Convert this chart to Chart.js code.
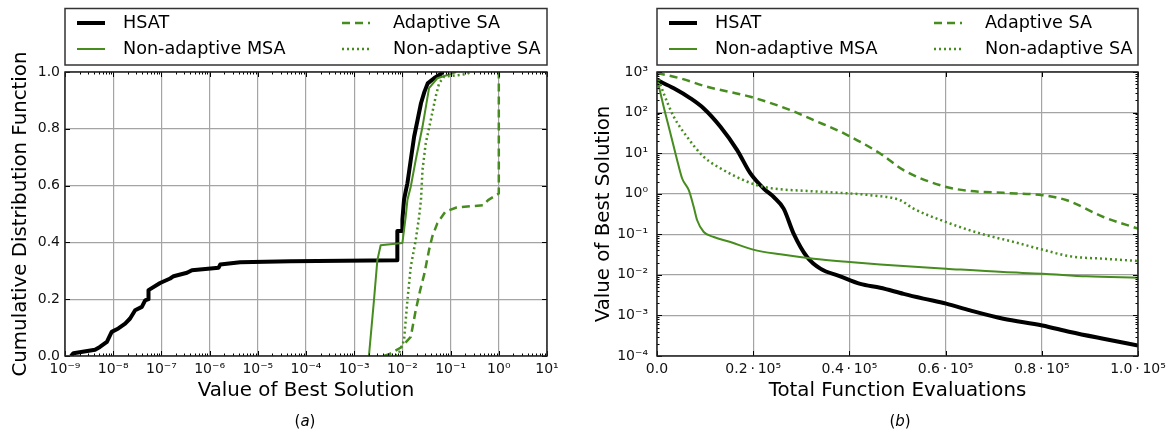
<!DOCTYPE html>
<html><head><meta charset="utf-8">
<script src="https://cdn.jsdelivr.net/npm/chart.js@4.4.1/dist/chart.umd.min.js"></script>
<style>
html,body{margin:0;padding:0;background:#fff;}
body{width:1172px;height:432px;position:relative;overflow:hidden;font-family:"DejaVu Sans";}
.panel{position:absolute;top:0;width:586px;height:432px;}
.cap{position:absolute;top:412px;font-size:15px;line-height:18px;font-family:"DejaVu Sans";color:#000;width:100px;text-align:center;}
</style></head><body>
<div class="panel" style="left:0"><canvas id="ca" width="586" height="432"></canvas></div>
<div class="panel" style="left:586px"><canvas id="cb" width="586" height="432"></canvas></div>
<div class="cap" style="left:255px">(<i>a</i>)</div>
<div class="cap" style="left:850px">(<i>b</i>)</div>
<script>
// ---------- series names ----------
const seriesNames = ['HSAT', 'Non-adaptive MSA', 'Adaptive SA', 'Non-adaptive SA'];

// ---------- panel (a): CDF of best solution value ----------
const hsatA_x = [1.33e-9, 1.5e-9, 4.2e-9, 5.3e-9, 7.4e-9, 9.3e-9, 1.28e-8, 1.77e-8, 2.24e-8, 2.85e-8, 3.93e-8, 4.6e-8, 5.4e-8, 5.4e-8, 9.4e-8, 1.52e-7, 1.79e-7, 3.4e-7, 4.3e-7, 1.54e-6, 1.66e-6, 4.3e-6, 4.8e-5, 7.85e-3, 7.85e-3, 0.0100, 0.0100, 0.0108, 0.0117, 0.0127, 0.0149, 0.0175, 0.0206, 0.0243, 0.0286, 0.0335, 0.0454, 0.0626, 0.068];
const hsatA_y = [0.0, 0.01, 0.022, 0.032, 0.05, 0.085, 0.097, 0.114, 0.132, 0.161, 0.173, 0.196, 0.2, 0.232, 0.257, 0.273, 0.281, 0.293, 0.302, 0.311, 0.322, 0.33, 0.334, 0.337, 0.44, 0.44, 0.48, 0.55, 0.58, 0.608, 0.69, 0.772, 0.83, 0.89, 0.93, 0.96, 0.978, 0.993, 1.0];
const msaA_x = [2.02e-3, 2.57e-3, 3.02e-3, 3.54e-3, 0.0100, 0.0108, 0.0117, 0.0127, 0.0149, 0.0189, 0.0261, 0.0357, 0.053, 0.10, 0.13];
const msaA_y = [0.0, 0.196, 0.337, 0.39, 0.398, 0.443, 0.49, 0.549, 0.596, 0.69, 0.807, 0.943, 0.978, 0.993, 1.0];
const adaA_x = [4.1e-3, 5.3e-3, 9.3e-3, 0.0149, 0.0189, 0.0234, 0.0286, 0.0357, 0.0416, 0.053, 0.0776, 0.133, 0.47, 0.6, 1.0, 1.0];
const adaA_y = [0.0, 0.006, 0.03, 0.067, 0.161, 0.232, 0.29, 0.373, 0.42, 0.467, 0.508, 0.523, 0.531, 0.549, 0.572, 1.0];
const nsaA_x = [7.2e-3, 8.5e-3, 0.0108, 0.0127, 0.0149, 0.0189, 0.0222, 0.0243, 0.0261, 0.0305, 0.0387, 0.049, 0.0577, 0.073, 0.22, 0.26];
const nsaA_y = [0.0, 0.01, 0.055, 0.196, 0.314, 0.408, 0.49, 0.549, 0.655, 0.749, 0.83, 0.913, 0.96, 0.983, 0.993, 1.0];

const xTicksA = [1e-9, 1e-8, 1e-7, 1e-6, 1e-5, 1e-4, 1e-3, 1e-2, 1e-1, 1e0, 1e1];
const xTickLabelsA = ['10⁻⁹', '10⁻⁸', '10⁻⁷', '10⁻⁶', '10⁻⁵', '10⁻⁴', '10⁻³', '10⁻²', '10⁻¹', '10⁰', '10¹'];
const yTicksA = [0.0, 0.2, 0.4, 0.6, 0.8, 1.0];
const yTickLabelsA = ['0.0', '0.2', '0.4', '0.6', '0.8', '1.0'];

// ---------- panel (b): convergence ----------
const hsatB_x = [0, 3490, 6960, 9720, 13190, 16660, 19420, 22180, 24260, 26330, 28400, 31200, 33960, 38100, 42260, 46400, 51260, 55400, 60120, 65100, 72000, 80100, 85900, 92800, 100000];
const hsatB_y = [630, 396, 224, 126, 44.7, 11.9, 3.16, 1.34, 0.83, 0.43, 0.104, 0.0275, 0.0142, 0.0092, 0.006, 0.0048, 0.0034, 0.0026, 0.00195, 0.00133, 8.3e-4, 5.66e-4, 3.9e-4, 2.66e-4, 1.82e-4];
const msaB_x = [0, 1400, 2800, 4190, 5230, 6610, 7640, 8350, 9720, 11800, 15260, 20000, 25650, 32560, 40040, 46400, 60120, 72000, 80100, 89350, 100000];
const msaB_y = [700, 138, 30.6, 6.7, 2.37, 1.22, 0.47, 0.222, 0.114, 0.0857, 0.0645, 0.0419, 0.032, 0.025, 0.0207, 0.018, 0.0142, 0.0117, 0.0107, 0.0092, 0.0085];
const adaB_x = [0, 4880, 10400, 19420, 27730, 32560, 38100, 46400, 51260, 60120, 65100, 72000, 80100, 85200, 92800, 100000];
const adaB_y = [950, 695, 433, 245, 115, 65, 34, 9.8, 3.8, 1.47, 1.17, 1.05, 0.92, 0.69, 0.267, 0.138];
const nsaB_x = [0, 1400, 3490, 6270, 9720, 13870, 18030, 20800, 24260, 31200, 38100, 44340, 50560, 53330, 60120, 67190, 74100, 80100, 85900, 92800, 100000];
const nsaB_y = [850, 295, 79, 25, 8.1, 3.8, 2.15, 1.62, 1.34, 1.17, 1.05, 0.92, 0.69, 0.43, 0.2, 0.105, 0.065, 0.042, 0.0286, 0.025, 0.022];

const xTicksB = [0, 20000, 40000, 60000, 80000, 100000];
const xTickLabelsB = ['0.0', '0.2\u2009·\u200910⁵', '0.4\u2009·\u200910⁵', '0.6\u2009·\u200910⁵', '0.8\u2009·\u200910⁵', '1.0\u2009·\u200910⁵'];
const yTicksB = [1e-4, 1e-3, 1e-2, 1e-1, 1e0, 1e1, 1e2, 1e3];
const yTickLabelsB = ['10⁻⁴', '10⁻³', '10⁻²', '10⁻¹', '10⁰', '10¹', '10²', '10³'];

// ---------- styling ----------
const GREEN = '#468c1e';
const FONT = 'DejaVu Sans';
const styles = [
  {borderColor: '#000', borderWidth: 4, borderDash: [], order: 4},
  {borderColor: GREEN, borderWidth: 2, borderDash: [], order: 3},
  {borderColor: GREEN, borderWidth: 2.5, borderDash: [8, 5], order: 2},
  {borderColor: GREEN, borderWidth: 2.5, borderDash: [2, 3], order: 1}
];

function makeDataset(i, xs, ys, smooth) {
  return Object.assign({
    label: seriesNames[i],
    data: xs.map((x, k) => ({x: x, y: ys[k]})),
    pointRadius: 0, fill: false, tension: 0,
    cubicInterpolationMode: smooth ? 'monotone' : 'default',
    borderCapStyle: 'butt', borderJoinStyle: 'round'
  }, styles[i]);
}

function minorLog(majors) {
  const out = [];
  for (let i = 0; i < majors.length - 1; i++) {
    for (let k = 2; k <= 9; k++) out.push(majors[i] * k);
  }
  return out;
}

const frameLegend = {
  id: 'frameLegend',
  afterDraw(chart, args, o) {
    const ctx = chart.ctx, a = chart.chartArea;
    const xs = chart.scales.x, ys = chart.scales.y;
    ctx.save();
    ctx.strokeStyle = '#000';
    ctx.lineWidth = 1;
    const vtick = (v, len) => {
      const p = Math.round(xs.getPixelForValue(v)) + 0.5;
      ctx.beginPath();
      ctx.moveTo(p, a.bottom); ctx.lineTo(p, a.bottom - len);
      ctx.moveTo(p, a.top); ctx.lineTo(p, a.top + len);
      ctx.stroke();
    };
    const htick = (v, len) => {
      const p = Math.round(ys.getPixelForValue(v)) + 0.5;
      ctx.beginPath();
      ctx.moveTo(a.left, p); ctx.lineTo(a.left + len, p);
      ctx.moveTo(a.right, p); ctx.lineTo(a.right - len, p);
      ctx.stroke();
    };
    o.xMajor.forEach(v => vtick(v, 5));
    (o.xMinor || []).forEach(v => vtick(v, 2.5));
    o.yMajor.forEach(v => htick(v, 5));
    (o.yMinor || []).forEach(v => htick(v, 2.5));
    // frame
    ctx.lineWidth = 1.5;
    ctx.strokeStyle = '#222';
    ctx.strokeRect(a.left, a.top, a.right - a.left, a.bottom - a.top);
    // legend box
    ctx.lineWidth = 1.5;
    ctx.strokeStyle = '#333';
    ctx.strokeRect(a.left, 8.5, a.right - a.left, 56.5);
    ctx.font = '17.6px "' + FONT + '"';
    ctx.textBaseline = 'middle';
    ctx.textAlign = 'left';
    ctx.fillStyle = '#000';
    const pos = [
      {lx: a.left + 12, tx: a.left + 58, y: 23},
      {lx: a.left + 12, tx: a.left + 58, y: 49},
      {lx: a.left + 277, tx: a.left + 328, y: 23},
      {lx: a.left + 277, tx: a.left + 328, y: 49}
    ];
    chart.data.datasets.forEach((d, i) => {
      const p = pos[i];
      ctx.save();
      ctx.strokeStyle = d.borderColor;
      ctx.lineWidth = d.borderWidth;
      ctx.setLineDash(d.borderDash || []);
      ctx.beginPath();
      ctx.moveTo(p.lx, p.y); ctx.lineTo(p.lx + 28, p.y);
      ctx.stroke();
      ctx.restore();
      ctx.fillText(d.label, p.tx, p.y);
    });
    ctx.restore();
  }
};

function lookup(ticks, labels, v) {
  let best = 0, bd = Infinity;
  ticks.forEach((t, i) => {
    const d = Math.abs(t > 0 && v > 0 ? Math.log10(t) - Math.log10(v) : t - v);
    if (d < bd) { bd = d; best = i; }
  });
  return labels[best];
}

const gridStyle = {color: '#a4a4a4', lineWidth: 1.2, drawTicks: false};
const tickFont = {family: FONT, size: 14};
const titleFont = {family: FONT, size: 19.8, lineHeight: 1.2};

function axis(type, min, max, ticks, labels, fit, title, titlePad, tickPad) {
  return {
    type: type, min: min, max: max,
    afterBuildTicks: s => { s.ticks = ticks.map(v => ({value: v})); },
    afterFit: fit,
    ticks: {callback: v => lookup(ticks, labels, v), font: tickFont, color: '#111', padding: tickPad, maxRotation: 0, autoSkip: false},
    grid: gridStyle,
    border: {display: false},
    title: {display: true, text: title, font: titleFont, color: '#000', padding: titlePad}
  };
}

// ---------- chart (a) ----------
new Chart(document.getElementById('ca'), {
  type: 'line',
  data: {datasets: [
    makeDataset(0, hsatA_x, hsatA_y, false),
    makeDataset(1, msaA_x, msaA_y, false),
    makeDataset(2, adaA_x, adaA_y, false),
    makeDataset(3, nsaA_x, nsaA_y, false)
  ]},
  options: {
    responsive: false, animation: false, devicePixelRatio: 1,
    parsing: false,
    layout: {padding: {left: 0, right: 39, top: 72, bottom: 0}},
    plugins: {
      legend: {display: false}, tooltip: {enabled: false},
      frameLegend: {xMajor: xTicksA, xMinor: minorLog(xTicksA), yMajor: yTicksA}
    },
    scales: {
      x: axis('logarithmic', 1e-9, 10, xTicksA, xTickLabelsA, s => { s.height = 76; }, 'Value of Best Solution', {top: 0, bottom: 29.1}, 5),
      y: axis('linear', 0, 1, yTicksA, yTickLabelsA, s => { s.width = 65; }, 'Cumulative Distribution Function', {top: 8.6, bottom: 0}, 5)
    }
  },
  plugins: [frameLegend]
});

// ---------- chart (b) ----------
new Chart(document.getElementById('cb'), {
  type: 'line',
  data: {datasets: [
    makeDataset(0, hsatB_x, hsatB_y, true),
    makeDataset(1, msaB_x, msaB_y, true),
    makeDataset(2, adaB_x, adaB_y, true),
    makeDataset(3, nsaB_x, nsaB_y, true)
  ]},
  options: {
    responsive: false, animation: false, devicePixelRatio: 1,
    parsing: false,
    layout: {padding: {left: 0, right: 34, top: 72, bottom: 0}},
    plugins: {
      legend: {display: false}, tooltip: {enabled: false},
      frameLegend: {xMajor: xTicksB, yMajor: yTicksB, yMinor: minorLog(yTicksB)}
    },
    scales: {
      x: axis('linear', 0, 100000, xTicksB, xTickLabelsB, s => { s.height = 76; }, 'Total Function Evaluations', {top: 0, bottom: 29.1}, 5),
      y: axis('logarithmic', 1e-4, 1e3, yTicksB, yTickLabelsB, s => { s.width = 71; }, 'Value of Best Solution', {top: 5.6, bottom: 0}, 9)
    }
  },
  plugins: [frameLegend]
});
</script>
</body></html>
